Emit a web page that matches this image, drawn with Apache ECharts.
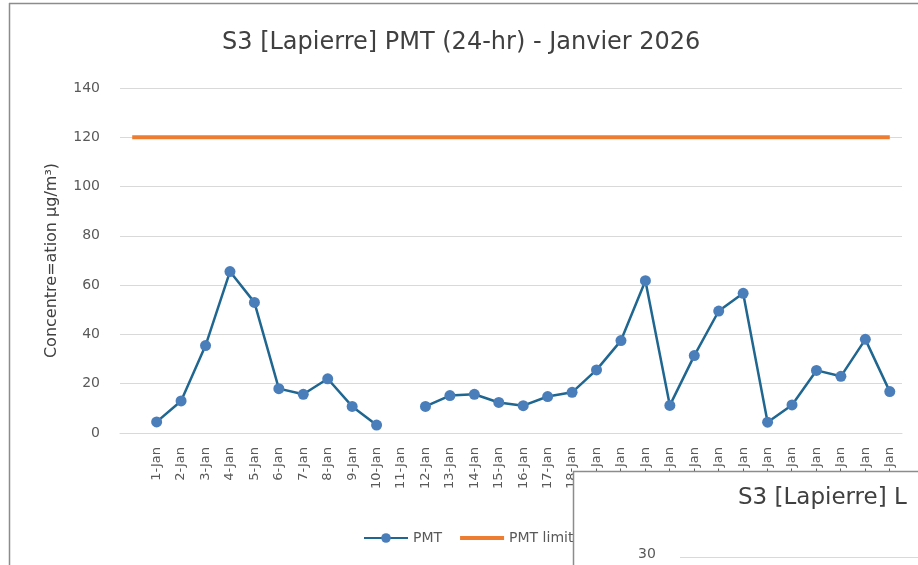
<!DOCTYPE html>
<html>
<head>
<meta charset="utf-8">
<script src="https://cdn.jsdelivr.net/npm/echarts@6/dist/echarts.min.js"></script>
<style>
  html, body { margin: 0; padding: 0; background: #fff; }
  #chart { width: 918px; height: 565px; }
</style>
</head>
<body>
<div id="chart"></div>
<script>
// categories: a blank slot first, then the days of January
const days = ['', '1-Jan', '2-Jan', '3-Jan', '4-Jan', '5-Jan', '6-Jan', '7-Jan', '8-Jan', '9-Jan', '10-Jan',
  '11-Jan', '12-Jan', '13-Jan', '14-Jan', '15-Jan', '16-Jan', '17-Jan', '18-Jan', '19-Jan', '20-Jan',
  '21-Jan', '22-Jan', '23-Jan', '24-Jan', '25-Jan', '26-Jan', '27-Jan', '28-Jan', '29-Jan', '30-Jan', '31-Jan'];

// PMT daily values (µg/m³), null = no data
const pmt = [null, 4.5, 13, 35.5, 65.5, 53, 18, 15.7, 22, 10.8, 3.2,
  null, 10.8, 15.2, 15.7, 12.4, 11.1, 14.8, 16.5, 25.6, 37.5,
  61.8, 11.2, 31.4, 49.5, 56.7, 4.4, 11.4, 25.4, 23, 38, 16.8];

// 24-hr limit
const pmtLimit = days.map(() => 120);

const yTicks = { min: 0, max: 140, interval: 20 };

const FONT = 'DejaVu Sans';
const chart = echarts.init(document.getElementById('chart'));

chart.setOption({
  backgroundColor: '#fff',
  animation: false,
  title: {
    text: 'S3 [Lapierre] PMT (24-hr) - Janvier 2026',
    left: 217, top: 26,
    textStyle: { fontFamily: FONT, fontSize: 24, fontWeight: 'normal', color: '#404040' }
  },
  legend: {
    left: 358, top: 526,
    itemWidth: 44, itemHeight: 12, itemGap: 18,
    textStyle: { fontFamily: FONT, fontSize: 14, color: '#595959' },
    data: [
      { name: 'PMT' },
      { name: 'PMT limit', icon: 'path://M0,0 L44,0 L44,4 L0,4 Z' }
    ]
  },
  grid: { left: 120, right: 16, top: 88, bottom: 132 },
  xAxis: {
    type: 'category',
    data: days,
    boundaryGap: true,
    axisLine: { lineStyle: { color: '#d9d9d9' } },
    axisTick: { show: false },
    axisLabel: { rotate: 90, interval: 0, fontFamily: FONT, fontSize: 13, color: '#595959', margin: 14 }
  },
  yAxis: {
    type: 'value',
    min: yTicks.min, max: yTicks.max, interval: yTicks.interval,
    name: 'Concentre=ation µg/m³)',
    nameLocation: 'middle',
    nameGap: 60,
    nameTextStyle: { fontFamily: FONT, fontSize: 16, color: '#404040' },
    axisLine: { show: false },
    axisTick: { show: false },
    axisLabel: { fontFamily: FONT, fontSize: 14, color: '#595959', margin: 20 },
    splitLine: { lineStyle: { color: '#d9d9d9', width: 1 } }
  },
  series: [
    {
      name: 'PMT',
      type: 'line',
      data: pmt,
      connectNulls: false,
      symbol: 'circle',
      symbolSize: 11,
      itemStyle: { color: '#4a7ebb' },
      lineStyle: { color: '#1f6690', width: 2.5 },
      z: 3
    },
    {
      name: 'PMT limit',
      type: 'line',
      data: pmtLimit,
      symbol: 'none',
      itemStyle: { color: '#ed7d31' },
      lineStyle: { color: '#ed7d31', width: 4 },
      z: 2
    }
  ],
  graphic: [
    // frame of the chart window
    { type: 'line', shape: { x1: 9.5, y1: 3, x2: 9.5, y2: 565 }, style: { stroke: '#8c8c8c', lineWidth: 1.5 }, z: 50 },
    { type: 'line', shape: { x1: 9, y1: 3.5, x2: 930, y2: 3.5 }, style: { stroke: '#8c8c8c', lineWidth: 1.5 }, z: 50 },
    // second chart window overlapping the bottom right
    {
      type: 'group', z: 100,
      children: [
        { type: 'rect', shape: { x: 573.5, y: 471.5, width: 360, height: 110 }, style: { fill: '#fff', stroke: '#8c8c8c', lineWidth: 1.5 }, z: 100 },
        { type: 'text', x: 738, y: 487, style: { text: 'S3 [Lapierre] L', fontFamily: FONT, fontSize: 23, fill: '#404040' }, z: 101 },
        { type: 'text', x: 638, y: 547, style: { text: '30', fontFamily: FONT, fontSize: 14, fill: '#595959' }, z: 101 },
        { type: 'line', shape: { x1: 680, y1: 557.5, x2: 930, y2: 557.5 }, style: { stroke: '#d9d9d9', lineWidth: 1 }, z: 101 }
      ]
    }
  ]
});
</script>
</body>
</html>
